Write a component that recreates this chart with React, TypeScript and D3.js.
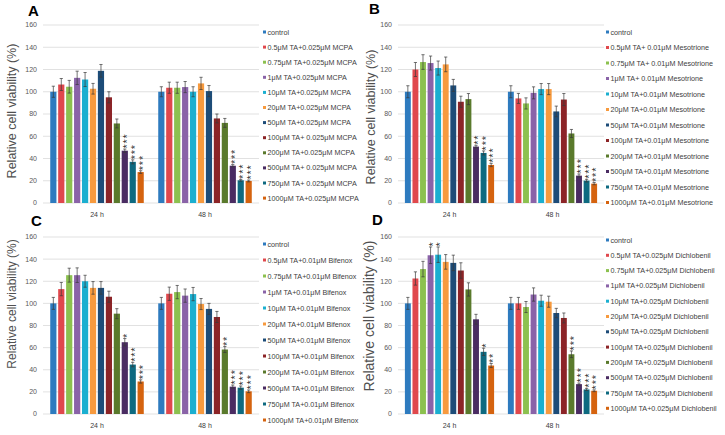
import React from 'react';
import * as d3 from 'd3';

const groups = ['24 h', '48 h'];
const doses = ['control', '0.5', '0.75', '1', '10', '20', '50', '100', '200', '500', '750', '1000'];
const colors = [
    '#2E7BBF', '#E0484D', '#8CC14F', '#8A63A8', '#1BAFD0', '#F79A3E',
    '#1D4C78', '#8C2427', '#5A7A2C', '#4A2C62', '#0E6A80', '#D5630F'
];
const yTicks = [0, 20, 40, 60, 80, 100, 120, 140, 160];

// panel A - MCPA
const legendA = ['control', '0.5μM TA+0.025μM MCPA', '0.75μM TA+0.025μM MCPA', '1μM TA+0.025μM MCPA',
    '10μM TA+0.025μM MCPA', '20μM TA+0.025μM MCPA', '50μM TA+0.025μM MCPA', '100μM TA+ 0.025μM MCPA',
    '200μM TA+0.025μM MCPA', '500μM TA+ 0.025μM MCPA', '750μM TA+ 0.025μM MCPA', '1000μM TA+0.025μM MCPA'];
const a24 = [100, 106.5, 104.5, 112.5, 111, 102.7, 118.8, 95, 71.5, 47, 37, 27.8];
const a48 = [100, 103.6, 103.6, 104.2, 100, 107.5, 100.6, 76, 72, 33.5, 20.4, 19.8];
const aErr24 = [5, 5.4, 5.7, 6, 6.3, 4.8, 5.7, 5, 4, 1.5, 1.8, 1.2];
const aErr48 = [4.5, 5, 5, 5, 4.5, 5.5, 5, 4, 4, 1, 0.8, 0.8];
const aStars24 = [0, 0, 0, 0, 0, 0, 0, 0, 0, 3, 3, 3];
const aStars48 = [0, 0, 0, 0, 0, 0, 0, 0, 0, 3, 3, 3];

// panel B - Mesotrione
const legendB = ['control', '0.5μM TA+ 0.01μM Mesotrione', '0.75μM TA+ 0.01μM Mesotrione', '1μM TA+ 0.01μM Mesotrione',
    '10μM TA+0.01μM Mesotrione', '20μM TA+0.01μM Mesotrione', '50μM TA+0.01μM Mesotrione', '100μM TA+0.01μM Mesotrione',
    '200μM TA+0.01μM Mesotrione', '500μM TA+0.01μM Mesotrione', '750μM TA+0.01μM Mesotrione', '1000μM TA+0.01μM Mesotrione'];
const b24 = [100, 120, 126.7, 125.8, 121.3, 124.6, 105.7, 91, 93.4, 50.7, 45, 34.2];
const b48 = [100, 94, 89.5, 99, 102.4, 102.4, 82.3, 93, 62.5, 24.6, 20.1, 17.4];
const bErr24 = [5.4, 6.3, 6.6, 6.3, 6.3, 6.6, 5.4, 5, 5, 1.2, 1.8, 1.5];
const bErr48 = [5.4, 4.5, 5, 5.4, 5, 5, 4.8, 5.4, 3.6, 1.5, 1.2, 1];
const bStars24 = [0, 0, 0, 0, 0, 0, 0, 0, 0, 2, 3, 3];
const bStars48 = [0, 0, 0, 0, 0, 0, 0, 0, 0, 3, 3, 3];

// panel C - Bifenox
const legendC = ['control', '0.5μM TA+0.01μM Bifenox', '0.75μM TA+0.01μM Bifenox', '1μM TA+0.01μM Bifenox',
    '10μM TA+0.01μM Bifenox', '20μM TA+0.01μM Bifenox', '50μM TA+0.01μM Bifenox', '100μM TA+0.01μM Bifenox',
    '200μM TA+0.01μM Bifenox', '500μM TA+0.01μM Bifenox', '750μM TA+0.01μM Bifenox', '1000μM TA+0.01μM Bifenox'];
const c24 = [100, 112.9, 125.5, 125.5, 120, 114, 114, 106, 90.7, 64.9, 44.7, 29.4];
const c48 = [100, 108.7, 110.2, 107, 108.4, 99.4, 95, 87.7, 58.3, 24.7, 23.8, 20.5];
const cErr24 = [5.4, 6, 6.3, 6.6, 5.4, 5.7, 5.7, 5, 4.5, 3.3, 2, 1.5];
const cErr48 = [5.4, 6, 6, 6, 6, 5, 5, 5, 2.7, 1.5, 1.5, 1.2];
const cStars24 = [0, 0, 0, 0, 0, 0, 0, 0, 0, 1, 3, 3];
const cStars48 = [0, 0, 0, 0, 0, 0, 0, 0, 2, 3, 3, 3];

// panel D - Dichlobenil
const legendD = ['control', '0.5μM TA+0.025μM Dichlobenil', '0.75μM TA+0.025μM Dichlobenil', '1μM TA+0.025μM Dichlobenil',
    '10μM TA+0.025μM Dichlobenil', '20μM TA+0.025μM Dichlobenil', '50μM TA+0.025μM Dichlobenil', '100μM TA+0.025μM Dichlobenil',
    '200μM TA+0.025μM Dichlobenil', '500μM TA+0.025μM Dichlobenil', '750μM TA+0.025μM Dichlobenil', '1000μM TA+0.025μM Dichlobenil'];
const d24 = [100, 122.5, 131, 143.5, 144, 137.5, 136.6, 129.7, 112.6, 85.6, 56.2, 43.8];
const d48 = [100, 100, 96.7, 108, 102.4, 101.5, 91.3, 86.8, 54, 27, 22.2, 21];
const dErr24 = [5.4, 6, 7, 7.5, 7, 6.6, 7, 7, 6, 4.5, 3.3, 1.8];
const dErr48 = [5.4, 5.4, 5, 6, 5, 5, 4.2, 4.5, 3, 1, 1, 0.8];
const dStars24 = [0, 0, 0, 1, 1, 0, 0, 0, 0, 0, 1, 2];
const dStars48 = [0, 0, 0, 0, 0, 0, 0, 0, 3, 3, 3, 3];

const font = 'Liberation Sans, Arial, sans-serif';

interface Layout {
    left: number; right: number; top: number; bottom: number;
    letter: string; letterX: number; letterY: number;
    titleX: number; titleY: number; titleSize: number;
    legendX: number; legendY: number; legendStep: number;
}

interface PanelProps {
    layout: Layout;
    legend: string[];
    values: number[][];
    errors: number[][];
    stars: number[][];
}

const Panel: React.FC<PanelProps> = ({ layout, legend, values, errors, stars }) => {
    const x0 = d3.scaleBand<string>().domain(groups)
        .range([layout.left, layout.right]).paddingInner(0.134).paddingOuter(0.067);
    const x1 = d3.scaleBand<string>().domain(doses)
        .range([0, x0.bandwidth()]).paddingInner(0.22).paddingOuter(0);
    const y = d3.scaleLinear().domain([0, 160]).range([layout.bottom, layout.top]);
    const starSize = 11;

    return (
        <g>
            {yTicks.map(t => (
                <g key={t}>
                    <line x1={layout.left} x2={layout.right} y1={y(t)} y2={y(t)} stroke="#d9d9d9" strokeWidth={0.8} />
                    <text x={layout.left - 6} y={y(t)} dy="0.35em" textAnchor="end" fontSize={7} fill="#595959">{t}</text>
                </g>
            ))}
            {groups.map((g, gi) => (
                <g key={g} transform={`translate(${x0(g)},0)`}>
                    {doses.map((d, i) => {
                        const v = values[gi][i];
                        const e = errors[gi][i];
                        const bx = x1(d) as number;
                        const cx = bx + x1.bandwidth() / 2;
                        const n = stars[gi][i];
                        return (
                            <g key={d}>
                                <rect x={bx} y={y(v)} width={x1.bandwidth()} height={y(0) - y(v)} fill={colors[i]} />
                                <line x1={cx} x2={cx} y1={y(v - e)} y2={y(v + e)} stroke="#3a3a3a" strokeWidth={0.7} />
                                <line x1={cx - 1.6} x2={cx + 1.6} y1={y(v + e)} y2={y(v + e)} stroke="#3a3a3a" strokeWidth={0.7} />
                                <line x1={cx - 1.6} x2={cx + 1.6} y1={y(v - e)} y2={y(v - e)} stroke="#3a3a3a" strokeWidth={0.7} />
                                {n > 0 && (
                                    <text transform={`translate(${cx + starSize * 0.57},${y(v + e) - 0.5}) rotate(-90)`}
                                        fontSize={starSize} letterSpacing={0.8} fill="#333">{'*'.repeat(n)}</text>
                                )}
                            </g>
                        );
                    })}
                    <text x={x0.bandwidth() / 2} y={layout.bottom + 14} textAnchor="middle" fontSize={7} fill="#404040">{g}</text>
                </g>
            ))}
            <text transform={`translate(${layout.titleX},${layout.titleY}) rotate(-90)`} textAnchor="middle"
                dy="0.35em" fontSize={layout.titleSize} fill="#505050">Relative cell viability (%)</text>
            <text x={layout.letterX} y={layout.letterY} fontSize={15} fontWeight="bold" fill="#000">{layout.letter}</text>
            {legend.map((l, i) => (
                <g key={l} transform={`translate(${layout.legendX},${layout.legendY + i * layout.legendStep})`}>
                    <rect x={0} y={-1.5} width={3} height={3} fill={colors[i]} />
                    <text x={4.5} y={0} dy="0.35em" fontSize={7.2} fill="#404040">{l}</text>
                </g>
            ))}
        </g>
    );
};

const layoutA: Layout = { left: 43, right: 259, top: 25, bottom: 203, letter: 'A', letterX: 28, letterY: 16,
    titleX: 12, titleY: 111, titleSize: 12.5, legendX: 263, legendY: 32, legendStep: 15.1 };
const layoutB: Layout = { left: 398, right: 604, top: 25, bottom: 203, letter: 'B', letterX: 369, letterY: 14,
    titleX: 371, titleY: 117, titleSize: 12.5, legendX: 606, legendY: 32, legendStep: 15.5 };
const layoutC: Layout = { left: 43, right: 259, top: 237, bottom: 414, letter: 'C', letterX: 31, letterY: 226,
    titleX: 12, titleY: 304, titleSize: 12, legendX: 263, legendY: 244, legendStep: 16 };
const layoutD: Layout = { left: 398, right: 604, top: 237, bottom: 414, letter: 'D', letterX: 372, letterY: 225,
    titleX: 369, titleY: 316, titleSize: 14, legendX: 606, legendY: 240, legendStep: 15.3 };

const App: React.FC = () => (
    <svg width={725} height={435} style={{ position: 'absolute', left: 0, top: 0, background: '#fff' }} fontFamily={font}>
        <Panel layout={layoutA} legend={legendA} values={[a24, a48]} errors={[aErr24, aErr48]} stars={[aStars24, aStars48]} />
        <Panel layout={layoutB} legend={legendB} values={[b24, b48]} errors={[bErr24, bErr48]} stars={[bStars24, bStars48]} />
        <Panel layout={layoutC} legend={legendC} values={[c24, c48]} errors={[cErr24, cErr48]} stars={[cStars24, cStars48]} />
        <Panel layout={layoutD} legend={legendD} values={[d24, d48]} errors={[dErr24, dErr48]} stars={[dStars24, dStars48]} />
    </svg>
);

export default App;
